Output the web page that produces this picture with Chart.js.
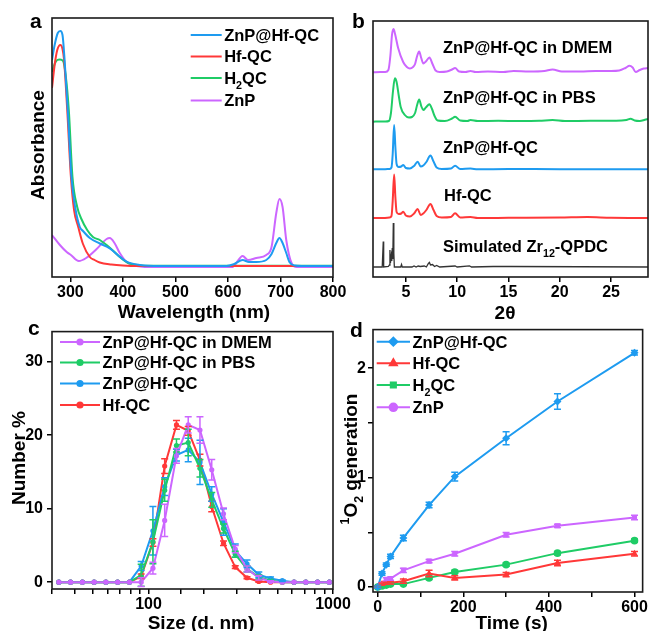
<!DOCTYPE html>
<html>
<head>
<meta charset="utf-8">
<script src="https://cdn.jsdelivr.net/npm/chart.js@4.4.0/dist/chart.umd.min.js"></script>
<style>
  body { margin: 0; background: #fff; width: 649px; height: 631px; position: relative; overflow: hidden; }
  canvas { position: absolute; }
</style>
</head>
<body>
<canvas id="graficoA" width="360" height="325" style="left:0;top:0"></canvas>
<canvas id="graficoB" width="309" height="325" style="left:340px;top:0"></canvas>
<canvas id="graficoC" width="360" height="313" style="left:0;top:318px"></canvas>
<canvas id="graficoD" width="309" height="313" style="left:340px;top:318px"></canvas>
<script>
// ---- Datos panel a (UV-vis) ----
const wlZnPHf = [265,270,276,281,285,289,295,302,310,318,324,337,356,375,394,407,432,470,597,612,628,640,654,673,683,692,698,704,711,717,727,740,800];
const absZnPHf = [2.17,2.32,2.44,2.46,2.42,2.17,1.67,1.00,0.67,0.50,0.46,0.39,0.335,0.287,0.203,0.153,0.12,0.11,0.11,0.13,0.17,0.15,0.15,0.17,0.23,0.34,0.39,0.34,0.24,0.15,0.115,0.11,0.11];
const wlHf = [265,270,275,281,285,288,294,301,307,315,324,337,346,356,378,400,430,800];
const absHf = [1.89,2.12,2.27,2.32,2.28,2.17,1.67,1.00,0.67,0.50,0.33,0.20,0.17,0.145,0.125,0.115,0.11,0.11];
const wlH2QC = [265,270,275,280,286,291,297,304,313,321,332,343,356,369,382,394,410,430,460,800];
const absH2QC = [2.05,2.13,2.17,2.175,2.16,2.02,1.67,1.00,0.70,0.58,0.47,0.40,0.37,0.32,0.26,0.20,0.14,0.118,0.112,0.112];
const wlZnP = [265,280,293,301,316,330,350,369,375,384,394,407,419,451,500,609,613,628,638,654,673,683,692,698,704,711,721,731,760,800];
const absZnP = [0.42,0.32,0.25,0.22,0.16,0.19,0.28,0.38,0.39,0.34,0.24,0.15,0.12,0.10,0.10,0.10,0.12,0.21,0.17,0.19,0.22,0.30,0.64,0.78,0.70,0.37,0.14,0.10,0.10,0.10];

// ---- Datos panel b (PXRD, curvas apiladas) ----
const tDMEM = [1.83,2.5,3.0,3.3,3.5,3.65,3.8,3.95,4.25,4.74,5.1,5.4,5.7,5.9,6.1,6.3,6.5,6.7,6.95,7.3,7.6,7.9,8.3,9.0,9.5,9.8,10.2,10.8,11.3,11.8,13,14.5,15.5,17,18.5,19.3,20.2,22,23.5,25,25.8,26.4,26.8,27.1,27.4,27.8,28.2,28.6];
const iDMEM = [20.47,20.5,20.5,20.7,22.2,24.2,24.8,24.3,22.9,21.5,21.0,20.85,21.0,21.3,22.1,22.55,21.9,21.35,21.55,21.95,21.3,20.65,20.5,20.55,20.75,20.9,20.55,20.5,20.6,20.5,20.55,20.5,20.6,20.55,20.6,20.75,20.55,20.55,20.6,20.6,20.65,20.9,21.13,20.95,20.5,20.7,20.85,20.9];
const tPBS = [1.83,2.5,3.0,3.35,3.55,3.75,3.93,4.1,4.3,4.5,4.9,5.3,5.6,5.9,6.1,6.3,6.5,6.7,6.95,7.3,7.55,7.8,8.1,8.8,9.5,9.8,10.3,11.0,11.3,12,14,16,18,19.3,20.5,23,25.5,26.5,26.9,27.3,27.8,28.3,28.6];
const iPBS = [15.53,15.55,15.55,15.6,16.4,18.6,19.87,19.5,18.2,17.0,16.2,15.95,16.0,16.4,17.2,17.75,17.1,16.7,16.95,17.27,16.8,16.1,15.65,15.6,15.85,16.03,15.65,15.6,15.7,15.6,15.62,15.6,15.62,15.7,15.6,15.62,15.62,15.7,15.82,15.65,15.6,15.72,15.8];
const tZnPHf = [1.83,2.8,3.4,3.6,3.72,3.86,3.98,4.1,4.3,4.55,4.75,5.0,5.4,5.8,6.15,6.45,6.7,7.0,7.4,7.7,8.0,8.5,9.4,9.8,10.3,11.3,12,15,20,25,28.6];
const iZnPHf = [10.77,10.77,10.8,10.95,12.3,15.2,13.0,11.3,11.0,11.05,11.2,10.9,10.85,11.1,11.53,11.05,11.15,11.5,12.15,11.55,10.95,10.8,10.85,11.13,10.8,10.85,10.77,10.8,10.78,10.78,10.77];
const tHf = [1.83,2.8,3.4,3.6,3.72,3.86,3.98,4.1,4.3,4.55,4.75,5.0,5.4,5.8,6.15,6.45,6.7,7.0,7.4,7.7,8.0,8.5,9.4,9.8,10.3,11.3,12,15,20,22.7,25,28.6];
const iHf = [5.9,5.9,5.95,6.1,7.6,10.25,8.0,6.5,6.3,6.35,6.53,6.15,6.05,6.35,6.8,6.2,6.35,6.7,7.3,6.7,6.1,5.95,6.0,6.37,5.95,6.0,5.9,5.92,5.95,6.0,5.92,5.9];
const tSim = [1.83,2.7,2.76,2.8,2.84,3.3,3.4,3.45,3.5,3.58,3.63,3.68,3.73,3.78,3.83,3.88,4.5,4.58,4.65,5.6,5.8,6.0,6.2,6.4,6.8,7.0,7.2,7.3,7.4,7.6,7.8,8.0,8.3,9.8,10.0,11.2,11.4,13.5,15.2,28.6];
const iSim = [1.0,1.0,1.0,3.55,1.0,1.05,1.2,2.7,1.4,2.1,1.6,2.9,1.8,5.4,2.4,1.0,1.0,1.25,1.0,1.0,1.1,1.0,1.1,1.05,1.1,1.0,1.35,1.45,1.2,1.25,1.05,1.15,1.0,1.1,1.0,1.12,1.0,1.05,1.05,1.0];

// ---- Datos panel c (DLS) ----
const tamanos = [32.67,37.84,43.82,50.75,58.77,68.06,78.82,91.28,105.7,122.4,141.8,164.2,190.1,220.2,255.0,295.3,342.0,396.1,458.7,531.2,615.1,712.4,825.0,955.4];
const numDMEM = [0,0,0,0,0,0,0,0.0,1.9,8.4,17.2,21.4,20.7,15.3,9.3,4.5,1.8,0.6,0.1,0,0,0,0,0];
const errDMEM = [0,0,0,0,0,0,0,0.6,0.8,2.2,1.0,1.1,1.8,1.4,0.8,0.5,0.4,0.3,0.1,0,0,0,0,0];
const numPBS = [0,0,0,0,0,0,0,0.95,5.5,12.5,18.6,19.0,15.5,11.2,7.3,3.8,1.8,0.7,0.2,0,0,0,0,0];
const errPBS = [0,0,0,0,0,0,0,1.5,3.0,1.5,0.9,1.8,1.2,1.0,0.6,0.4,0.4,0.3,0.1,0,0,0,0,0];
const numZnPHf = [0,0,0,0,0,0,0,2.2,7.0,13.0,17.3,18.0,16.3,12.0,8.2,4.3,2.5,1.0,0.5,0.2,0,0,0,0];
const errZnPHf = [0,0,0,0,0,0,0,0.6,3.3,1.2,0.8,1.6,3.0,1.0,1.8,0.9,0.5,0.4,0.2,0.1,0,0,0,0];
const numHf = [0,0,0,0,0,0,0,0.8,5.4,15.8,21.4,20.6,16.6,10.3,5.3,2.05,0.6,0.1,0,0,0,0,0,0];
const errHf = [0,0,0,0,0,0,0,0.3,0.5,1.0,0.6,0.6,0.8,0.7,0.3,0.2,0.15,0.1,0,0,0,0,0,0];

// ---- Datos panel d (generación de 1O2) ----
const tiempos = [0,10,20,30,60,120,180,300,420,600];
const o2ZnPHf = [0,0.124,0.205,0.28,0.449,0.749,1.009,1.36,1.695,2.14];
const errO2ZnPHf = [0.01,0.015,0.015,0.02,0.025,0.025,0.04,0.06,0.07,0.02];
const o2Hf = [0,0.027,0.035,0.039,0.054,0.124,0.084,0.114,0.22,0.304];
const errO2Hf = [0.01,0.01,0.01,0.01,0.02,0.03,0.02,0.02,0.025,0.02];
const o2H2QC = [0,0.01,0.018,0.027,0.027,0.084,0.138,0.205,0.31,0.424];
const errO2H2QC = [0.01,0.01,0.01,0.01,0.01,0.015,0.015,0.015,0.015,0.015];
const o2ZnP = [0,0.03,0.07,0.078,0.153,0.237,0.304,0.478,0.56,0.635];
const errO2ZnP = [0.01,0.01,0.015,0.015,0.02,0.015,0.02,0.02,0.015,0.02];

const AZUL = '#1e9bf0', ROJO = '#ff3838', VERDE = '#1fcc66', MORADO = '#cc66ff', NEGRO = '#333333';
const FUENTE = '"Liberation Sans", Arial, Helvetica, sans-serif';

Chart.defaults.font.family = FUENTE;
Chart.defaults.font.weight = 'bold';
Chart.defaults.font.size = 16;
Chart.defaults.color = '#000';
Chart.defaults.animation = false;

const puntos = (xs, ys) => xs.map((x, i) => ({ x: x, y: ys[i] }));

// Texto con sub/superíndices; y es el centro de las mayúsculas
function textoRico(ctx, partes, x, y, tam, alinear, rot) {
    ctx.save();
    ctx.translate(x, y);
    if (rot) ctx.rotate(rot);
    ctx.fillStyle = '#000';
    ctx.textBaseline = 'alphabetic';
    const segs = partes.map(p => typeof p === 'string' ? { s: p, k: '' } : { s: p[0], k: p[1] });
    let ancho = 0;
    segs.forEach(g => {
        g.fs = g.k ? tam * 0.65 : tam;
        ctx.font = `bold ${g.fs}px ${FUENTE}`;
        g.w = ctx.measureText(g.s).width;
        ancho += g.w;
    });
    let cx = alinear === 'center' ? -ancho / 2 : 0;
    const base = tam * 0.36;
    segs.forEach(g => {
        ctx.font = `bold ${g.fs}px ${FUENTE}`;
        const dy = g.k === 'sub' ? tam * 0.32 : (g.k === 'sup' ? -tam * 0.42 : 0);
        ctx.fillText(g.s, cx, base + dy);
        cx += g.w;
    });
    ctx.restore();
}

// Marco, textos y leyenda dibujados encima
function pluginExtras(textos, leyenda) {
    return {
        id: 'extras',
        afterDatasetsDraw(chart) {
            const ctx = chart.ctx;
            for (let i = chart.data.datasets.length - 1; i >= 0; i--) {
                const ds = chart.data.datasets[i];
                if (!ds.errores) continue;
                const meta = chart.getDatasetMeta(i);
                const yS = chart.scales[meta.yAxisID];
                ctx.save();
                ctx.strokeStyle = ds.borderColor;
                ctx.lineWidth = 1.5;
                meta.data.forEach((pt, j) => {
                    const e = ds.errores[j];
                    if (!e) return;
                    const v = ds.data[j].y;
                    const y1 = yS.getPixelForValue(v + e), y2 = yS.getPixelForValue(v - e);
                    ctx.beginPath();
                    ctx.moveTo(pt.x, y1); ctx.lineTo(pt.x, y2);
                    ctx.moveTo(pt.x - 3.5, y1); ctx.lineTo(pt.x + 3.5, y1);
                    ctx.moveTo(pt.x - 3.5, y2); ctx.lineTo(pt.x + 3.5, y2);
                    ctx.stroke();
                });
                ctx.restore();
            }
        },
        afterDraw(chart) {
            const ctx = chart.ctx, a = chart.chartArea;
            ctx.save();
            ctx.strokeStyle = '#1a1a1a';
            ctx.lineWidth = 1.6;
            ctx.strokeRect(a.left, a.top, a.right - a.left, a.bottom - a.top);
            ctx.restore();
            textos.forEach(t => textoRico(ctx, t.p, t.x, t.y, t.tam || 16.5, t.al || 'left', t.rot || 0));
            leyenda.items.forEach((it, k) => {
                const y = leyenda.ys[k];
                ctx.save();
                ctx.strokeStyle = it.color;
                ctx.lineWidth = 2;
                ctx.beginPath();
                ctx.moveTo(leyenda.x1, y); ctx.lineTo(leyenda.x2, y);
                ctx.stroke();
                if (it.marca) {
                    ctx.fillStyle = it.color;
                    Chart.helpers.drawPoint(ctx, { pointStyle: it.marca, radius: it.radio || 3, rotation: 0, borderWidth: 1 }, (leyenda.x1 + leyenda.x2) / 2, y);
                }
                ctx.restore();
                textoRico(ctx, it.p, leyenda.x2 + 2.5, y, 16.5, 'left', 0);
            });
        }
    };
}

function ejeX(extra, alto) {
    return Object.assign({
        type: 'linear',
        grid: { display: true, drawOnChartArea: false, drawTicks: true, tickLength: 5, color: '#000', lineWidth: 1.5 },
        border: { display: false },
        afterFit: s => { s.height = alto; }
    }, extra);
}
function ejeY(extra, anchoEje) {
    return Object.assign({
        type: 'linear',
        grid: { display: true, drawOnChartArea: false, drawTicks: true, tickLength: 5, color: '#000', lineWidth: 1.5 },
        border: { display: false },
        afterFit: s => { s.width = anchoEje; }
    }, extra);
}
const basePlugins = { legend: { display: false }, tooltip: { enabled: false } };

// ---- Panel a ----
new Chart(document.getElementById('graficoA'), {
    type: 'line',
    data: {
        datasets: [
            { data: puntos(wlZnPHf, absZnPHf), borderColor: AZUL },
            { data: puntos(wlHf, absHf), borderColor: ROJO },
            { data: puntos(wlH2QC, absH2QC), borderColor: VERDE },
            { data: puntos(wlZnP, absZnP), borderColor: MORADO }
        ].map(d => Object.assign(d, { borderWidth: 2, pointRadius: 0, cubicInterpolationMode: 'monotone', fill: false }))
    },
    options: {
        responsive: false,
        layout: { padding: { left: 52, top: 18, right: 27, bottom: 0 } },
        scales: {
            x: ejeX({ min: 265, max: 800, ticks: { stepSize: 100, includeBounds: false, padding: 1, maxRotation: 0, autoSkip: false } }, 48),
            y: { type: 'linear', display: false, min: 0, max: 2.59 }
        },
        plugins: basePlugins
    },
    plugins: [pluginExtras([
        { p: ['a'], x: 30, y: 20.8, tam: 21 },
        { p: ['Absorbance'], x: 37, y: 145, tam: 19, al: 'center', rot: -Math.PI / 2 },
        { p: ['Wavelength (nm)'], x: 194, y: 311.5, tam: 19, al: 'center' }
    ], {
        x1: 190.7, x2: 221.7, ys: [35, 56.5, 78, 100.5],
        items: [
            { color: AZUL, p: ['ZnP@Hf-QC'] },
            { color: ROJO, p: ['Hf-QC'] },
            { color: VERDE, p: ['H', ['2', 'sub'], 'QC'] },
            { color: MORADO, p: ['ZnP'] }
        ]
    })]
});

// ---- Panel b ----
new Chart(document.getElementById('graficoB'), {
    type: 'line',
    data: {
        datasets: [
            { data: puntos(tDMEM, iDMEM), borderColor: MORADO, cubicInterpolationMode: 'monotone' },
            { data: puntos(tPBS, iPBS), borderColor: VERDE, cubicInterpolationMode: 'monotone' },
            { data: puntos(tZnPHf, iZnPHf), borderColor: AZUL, cubicInterpolationMode: 'monotone' },
            { data: puntos(tHf, iHf), borderColor: ROJO, cubicInterpolationMode: 'monotone' },
            { data: puntos(tSim, iSim), borderColor: NEGRO, borderWidth: 1.3 }
        ].map(d => Object.assign({ borderWidth: 2, pointRadius: 0, fill: false }, d))
    },
    options: {
        responsive: false,
        layout: { padding: { left: 33, top: 21, right: 1, bottom: 0 } },
        scales: {
            x: ejeX({ min: 1.8, max: 28.6, ticks: { stepSize: 5, includeBounds: false, padding: 1, maxRotation: 0, autoSkip: false } }, 48),
            y: { type: 'linear', display: false, min: 0, max: 25.6 }
        },
        plugins: basePlugins
    },
    plugins: [pluginExtras([
        { p: ['b'], x: 12, y: 20.4, tam: 21 },
        { p: ['ZnP@Hf-QC in DMEM'], x: 103, y: 47.5 },
        { p: ['ZnP@Hf-QC in PBS'], x: 103, y: 96.7 },
        { p: ['ZnP@Hf-QC'], x: 103, y: 146.7 },
        { p: ['Hf-QC'], x: 104, y: 195 },
        { p: ['Simulated Zr', ['12', 'sub'], '-QPDC'], x: 103, y: 246 },
        { p: ['2θ'], x: 165, y: 312.5, tam: 19, al: 'center' }
    ], { x1: 0, x2: 0, ys: [], items: [] })]
});

// ---- Panel c ----
new Chart(document.getElementById('graficoC'), {
    type: 'line',
    data: {
        datasets: [
            { data: puntos(tamanos, numDMEM), errores: errDMEM, borderColor: MORADO, backgroundColor: MORADO },
            { data: puntos(tamanos, numPBS), errores: errPBS, borderColor: VERDE, backgroundColor: VERDE },
            { data: puntos(tamanos, numZnPHf), errores: errZnPHf, borderColor: AZUL, backgroundColor: AZUL },
            { data: puntos(tamanos, numHf), errores: errHf, borderColor: ROJO, backgroundColor: ROJO }
        ].map(d => Object.assign(d, { borderWidth: 2, pointRadius: 2.6, pointBorderWidth: 0, pointStyle: 'circle', tension: 0, fill: false }))
    },
    options: {
        responsive: false,
        layout: { padding: { left: 0, top: 7, right: 27, bottom: 0 } },
        scales: {
            x: ejeX({
                type: 'logarithmic', min: 30, max: 1000,
                ticks: { padding: 1, maxRotation: 0, autoSkip: false, callback: v => (v === 100 || v === 1000) ? String(v) : '' }
            }, 42),
            y: ejeY({ min: -0.93, max: 34.1, ticks: { stepSize: 10, includeBounds: false, padding: 4 } }, 52)
        },
        plugins: basePlugins
    },
    plugins: [pluginExtras([
        { p: ['c'], x: 28, y: 9.5, tam: 21 },
        { p: ['Number %'], x: 18.3, y: 140, tam: 19, al: 'center', rot: -Math.PI / 2 },
        { p: ['Size (d. nm)'], x: 201, y: 303.7, tam: 19, al: 'center' }
    ], {
        x1: 60, x2: 100, ys: [24, 44.5, 65.5, 87],
        items: [
            { color: MORADO, p: ['ZnP@Hf-QC in DMEM'], marca: 'circle', radio: 2.6 },
            { color: VERDE, p: ['ZnP@Hf-QC in PBS'], marca: 'circle', radio: 2.6 },
            { color: AZUL, p: ['ZnP@Hf-QC'], marca: 'circle', radio: 2.6 },
            { color: ROJO, p: ['Hf-QC'], marca: 'circle', radio: 2.6 }
        ]
    })]
});

// ---- Panel d ----
new Chart(document.getElementById('graficoD'), {
    type: 'line',
    data: {
        datasets: [
            { data: puntos(tiempos, o2ZnPHf), errores: errO2ZnPHf, borderColor: AZUL, backgroundColor: AZUL, pointStyle: 'rectRot', pointRadius: 4 },
            { data: puntos(tiempos, o2Hf), errores: errO2Hf, borderColor: ROJO, backgroundColor: ROJO, pointStyle: 'triangle', pointRadius: 4 },
            { data: puntos(tiempos, o2H2QC), errores: errO2H2QC, borderColor: VERDE, backgroundColor: VERDE, pointStyle: 'circle', pointRadius: 3.8 },
            { data: puntos(tiempos, o2ZnP), errores: errO2ZnP, borderColor: MORADO, backgroundColor: MORADO, pointStyle: 'rect', pointRadius: 3.6 }
        ].map(d => Object.assign(d, { borderWidth: 2, pointBorderWidth: 0, tension: 0, fill: false }))
    },
    options: {
        responsive: false,
        layout: { padding: { left: 0, top: 9, right: 5, bottom: 0 } },
        scales: {
            x: ejeX({ min: -11, max: 619, ticks: { stepSize: 100, includeBounds: false, padding: 1, maxRotation: 0, autoSkip: false, callback: v => (v % 200 === 0) ? String(v) : '' } }, 39),
            y: ejeY({ min: -0.045, max: 2.352, ticks: { stepSize: 0.5, includeBounds: false, padding: 2, autoSkip: false, callback: v => (Math.abs(v - Math.round(v)) < 1e-6) ? String(Math.round(v)) : '' } }, 33)
        },
        plugins: basePlugins
    },
    plugins: [pluginExtras([
        { p: ['d'], x: 10, y: 11.2, tam: 21 },
        { p: [['1', 'sup'], 'O', ['2', 'sub'], ' generation'], x: 10, y: 141, tam: 19, al: 'center', rot: -Math.PI / 2 },
        { p: ['Time (s)'], x: 171.7, y: 303.7, tam: 19, al: 'center' }
    ], {
        x1: 36.7, x2: 70, ys: [23.7, 45.3, 67, 89.3],
        items: [
            { color: AZUL, p: ['ZnP@Hf-QC'], marca: 'rectRot', radio: 4 },
            { color: ROJO, p: ['Hf-QC'], marca: 'triangle', radio: 4 },
            { color: VERDE, p: ['H', ['2', 'sub'], 'QC'], marca: 'rect', radio: 3.6 },
            { color: MORADO, p: ['ZnP'], marca: 'circle', radio: 3.8 }
        ]
    })]
});
</script>
</body>
</html>
